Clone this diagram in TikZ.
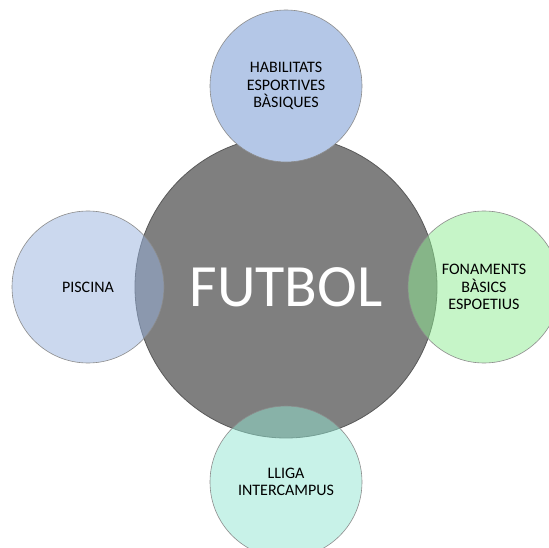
\documentclass[tikz,border=0pt]{standalone}
\usepackage{fontspec}
\setmainfont{Carlito}
\usetikzlibrary{positioning}

\definecolor{futgray}{RGB}{127,127,127}
\definecolor{habblue}{RGB}{180,199,231}
\definecolor{piscblue}{RGB}{151,178,222}
\definecolor{fonagreen}{RGB}{141,235,145}
\definecolor{lligamint}{RGB}{145,229,209}

\tikzset{
  topic/.style={circle, draw=black!45, line width=0.6pt, minimum size=152pt,
    inner sep=0pt, align=center, text=black, on grid,
    font=\fontsize{16}{17.5}\selectfont},
  ghost/.style={topic, fill opacity=0.5, text opacity=1},
}

\begin{document}
\begin{tikzpicture}[x=1pt,y=-1pt]
\clip (0,0) rectangle (549,548);

% centre
\node [circle, draw=black!65, line width=0.8pt, fill=futgray, minimum size=302pt,
  inner sep=0pt, text=white, font=\fontsize{60}{60}\selectfont]
  (futbol) at (286,287) {FUTBOL};

% satellites
\node [topic, fill=habblue, above=201pt of futbol] (habilitats)
  {HABILITATS\\ESPORTIVES\\BÀSIQUES};
\node [ghost, fill=piscblue, left=198pt of futbol] (piscina) {PISCINA};
\node [ghost, fill=fonagreen, right=198pt of futbol] (fonaments)
  {FONAMENTS\\BÀSICS\\ESPOETIUS};
\node [ghost, fill=lligamint, below=195pt of futbol] (lliga)
  {LLIGA\\INTERCAMPUS};

\end{tikzpicture}
\end{document}
